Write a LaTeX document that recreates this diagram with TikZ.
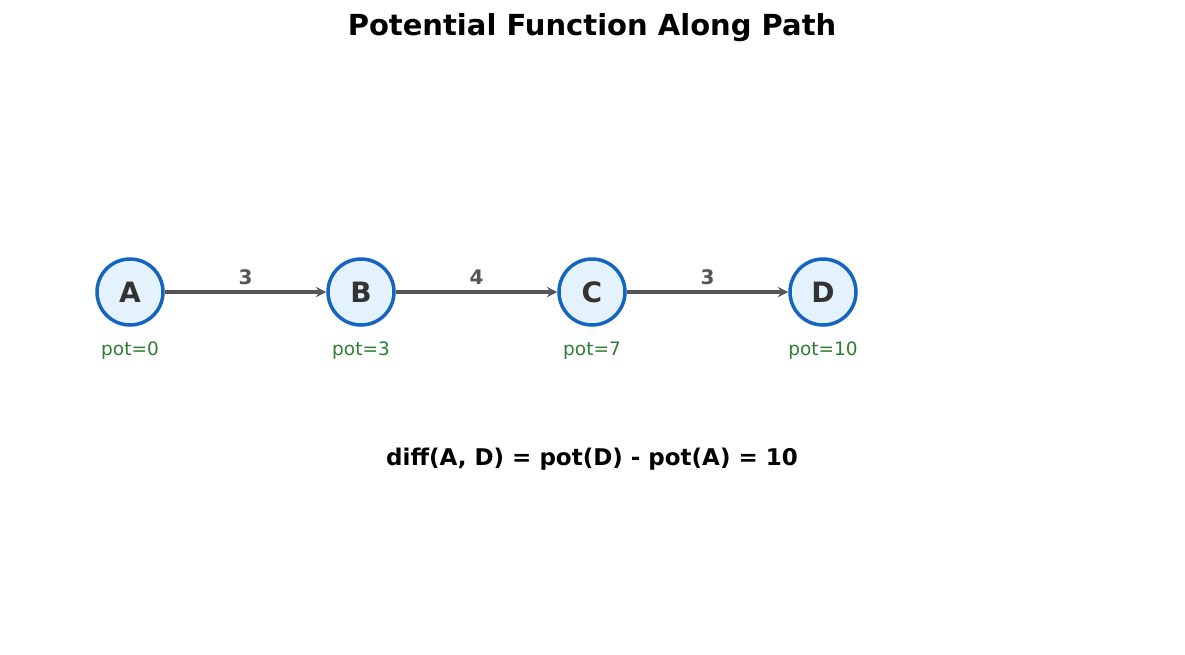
\documentclass[tikz,border=0pt]{standalone}
\usepackage{fontspec}
\setmainfont{DejaVu Sans}
\usetikzlibrary{positioning}
\definecolor{nodeblue}{HTML}{1565C0}
\definecolor{nodefill}{HTML}{E3F2FD}
\definecolor{edgegray}{HTML}{555555}
\definecolor{potgreen}{HTML}{2E7D32}
\tikzset{
  vert/.style={circle,draw=nodeblue,fill=nodefill,line width=3.5pt,minimum size=66pt,inner sep=0pt,
    font=\fontsize{28}{32}\selectfont\bfseries,text=black!80},
  link/.style={->,>=stealth,draw=edgegray,line width=3.5pt},
  wlabel/.style={font=\fontsize{20}{24}\selectfont\bfseries,text=edgegray},
  potlabel/.style={font=\fontsize{18.5}{22}\selectfont,text=potgreen}
}
\begin{document}
\begin{tikzpicture}[x=1pt,y=-1pt]
\useasboundingbox (0,0) rectangle (1185,654);
\node[font=\fontsize{29}{34}\selectfont\bfseries] (title) at (592,28) {Potential Function Along Path};
\node[vert] (A) at (130,292) {A};
\node[vert] (B) at (361,292) {B};
\node[vert] (C) at (592,292) {C};
\node[vert] (D) at (823,292) {D};
\foreach \v/\p in {A/0,B/3,C/7,D/10}
{
    \node[potlabel] (pot\v) at ([yshift=-59pt]\v.center) {pot=\p};
}
\draw[link] (A) -- node[wlabel,above=2pt] (wAB) {3} (B);
\draw[link] (B) -- node[wlabel,above=2pt] (wBC) {4} (C);
\draw[link] (C) -- node[wlabel,above=2pt] (wCD) {3} (D);

\node[font=\fontsize{23}{27}\selectfont\bfseries] (diff) at (592,459) {diff(A, D) = pot(D) - pot(A) = 10};
\end{tikzpicture}
\end{document}
